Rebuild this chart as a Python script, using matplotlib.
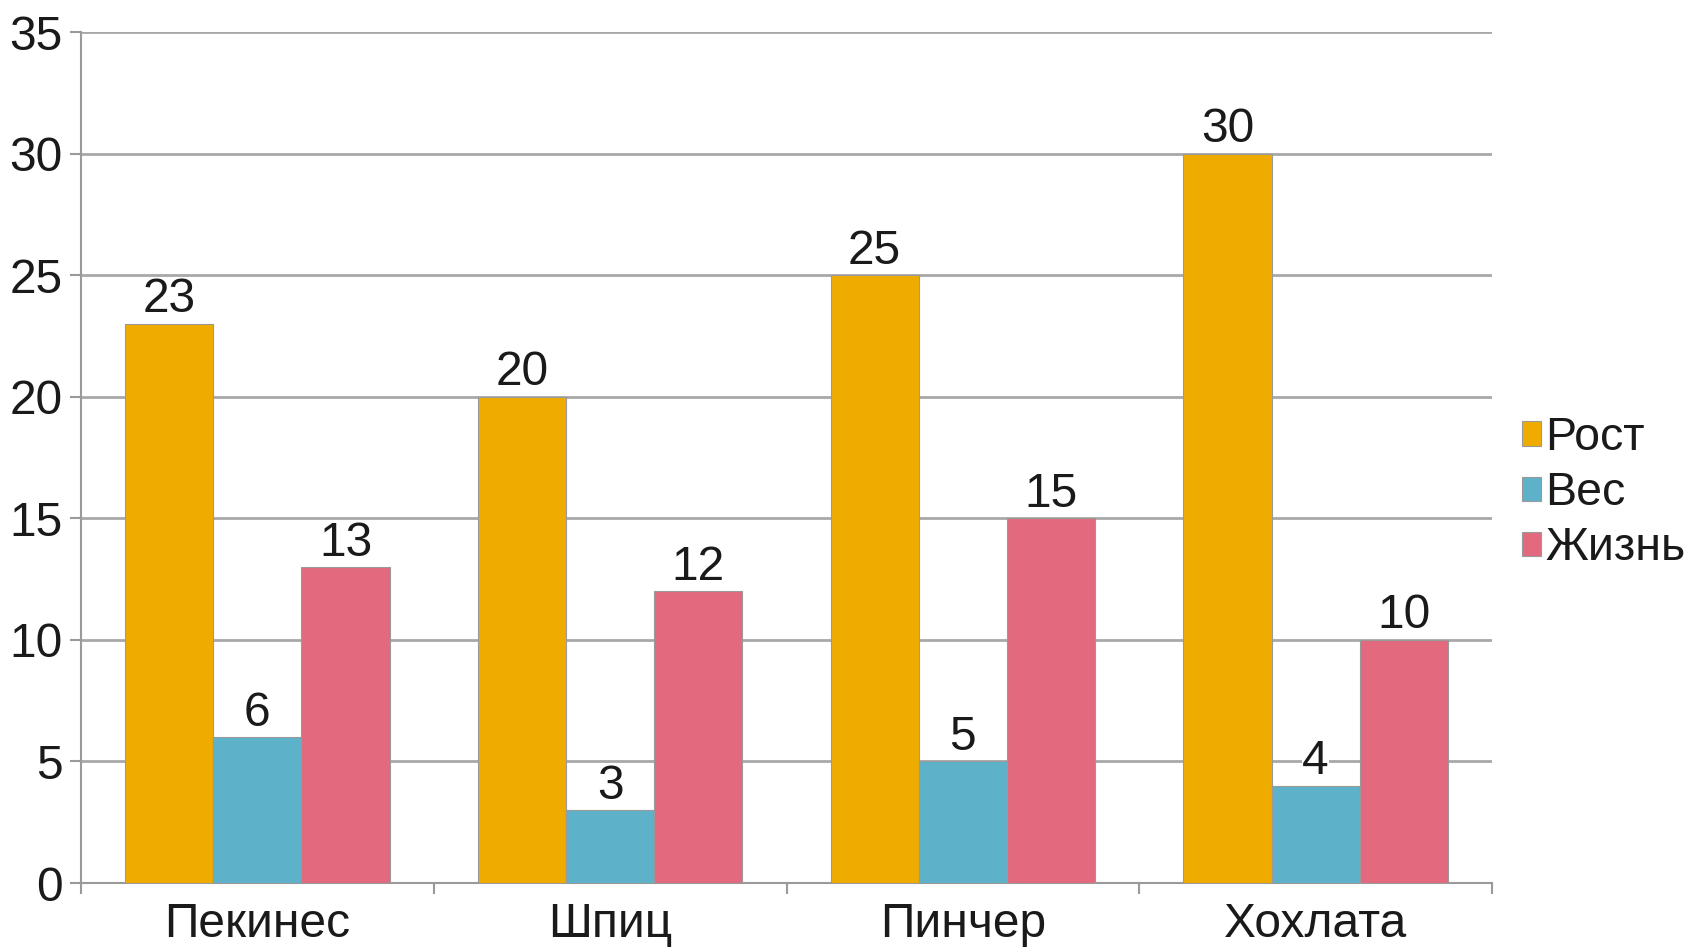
import matplotlib
matplotlib.use("Agg")
import matplotlib.pyplot as plt
import numpy as np

categories = ["Пекинес", "Шпиц", "Пинчер", "Хохлата"]
series_names = ["Рост", "Вес", "Жизнь"]
rost = [23, 20, 25, 30]
ves = [6, 3, 5, 4]
zhizn = [13, 12, 15, 10]
colors = ["#EFAB00", "#5DB2CA", "#E36A7E"]
y_ticks = [0, 5, 10, 15, 20, 25, 30, 35]

plt.rcParams['font.family'] = ['Liberation Sans', 'DejaVu Sans']
FS = 34.5

fig = plt.figure(figsize=(16.92, 9.47), dpi=100)
ax = fig.add_axes([81/1692, 1 - 883/947, (1492 - 81)/1692, (883 - 32)/947])

x = np.arange(len(categories))
w = 0.25
for i, (vals, name) in enumerate(zip([rost, ves, zhizn], series_names)):
    bars = ax.bar(x + (i - 1) * w, vals, width=w, color=colors[i], label=name,
                  edgecolor="#9a9a9a", linewidth=0.8, zorder=3)
    for b, v in zip(bars, vals):
        ax.annotate(str(v), (b.get_x() + b.get_width() / 2, v), xytext=(0, 1),
                    textcoords="offset points", ha="center", va="bottom",
                    fontsize=FS, color="#1a1a1a", zorder=4,
                    bbox=dict(facecolor="white", edgecolor="none", pad=0))

ax.set_xlim(-0.5, len(categories) - 0.5)
ax.set_ylim(0, 35)
ax.set_yticks(y_ticks)
ax.set_yticklabels([str(t) for t in y_ticks], fontsize=FS, color="#1a1a1a")
ax.yaxis.grid(True, color="#a8a8a8", linewidth=2.0, zorder=0)
ax.set_axisbelow(True)

ax.set_xticks(np.arange(-0.5, len(categories), 1.0))
ax.set_xticklabels([])
ax.set_xticks(x, minor=True)
ax.set_xticklabels(categories, minor=True, fontsize=FS, color="#1a1a1a")
ax.tick_params(axis="x", which="minor", length=0, pad=14)
ax.tick_params(axis="x", which="major", length=8, color="#9a9a9a", width=1.5)
ax.tick_params(axis="y", length=8, color="#9a9a9a", width=1.5, pad=5)

for s in ["top", "right"]:
    ax.spines[s].set_visible(False)
for s in ["left", "bottom"]:
    ax.spines[s].set_color("#9a9a9a")
    ax.spines[s].set_linewidth(1.5)

leg = ax.legend(loc="center left", bbox_to_anchor=(1.008, 0.458), frameon=False,
                fontsize=33.5, handlelength=0.42, handleheight=0.42,
                handletextpad=0.08, labelspacing=0.24, borderaxespad=0.0)
for h in leg.legend_handles:
    h.set_edgecolor("#9a9a9a")
for t in leg.get_texts():
    t.set_color("#1a1a1a")

fig.savefig("out.png", dpi=100, facecolor="white")
